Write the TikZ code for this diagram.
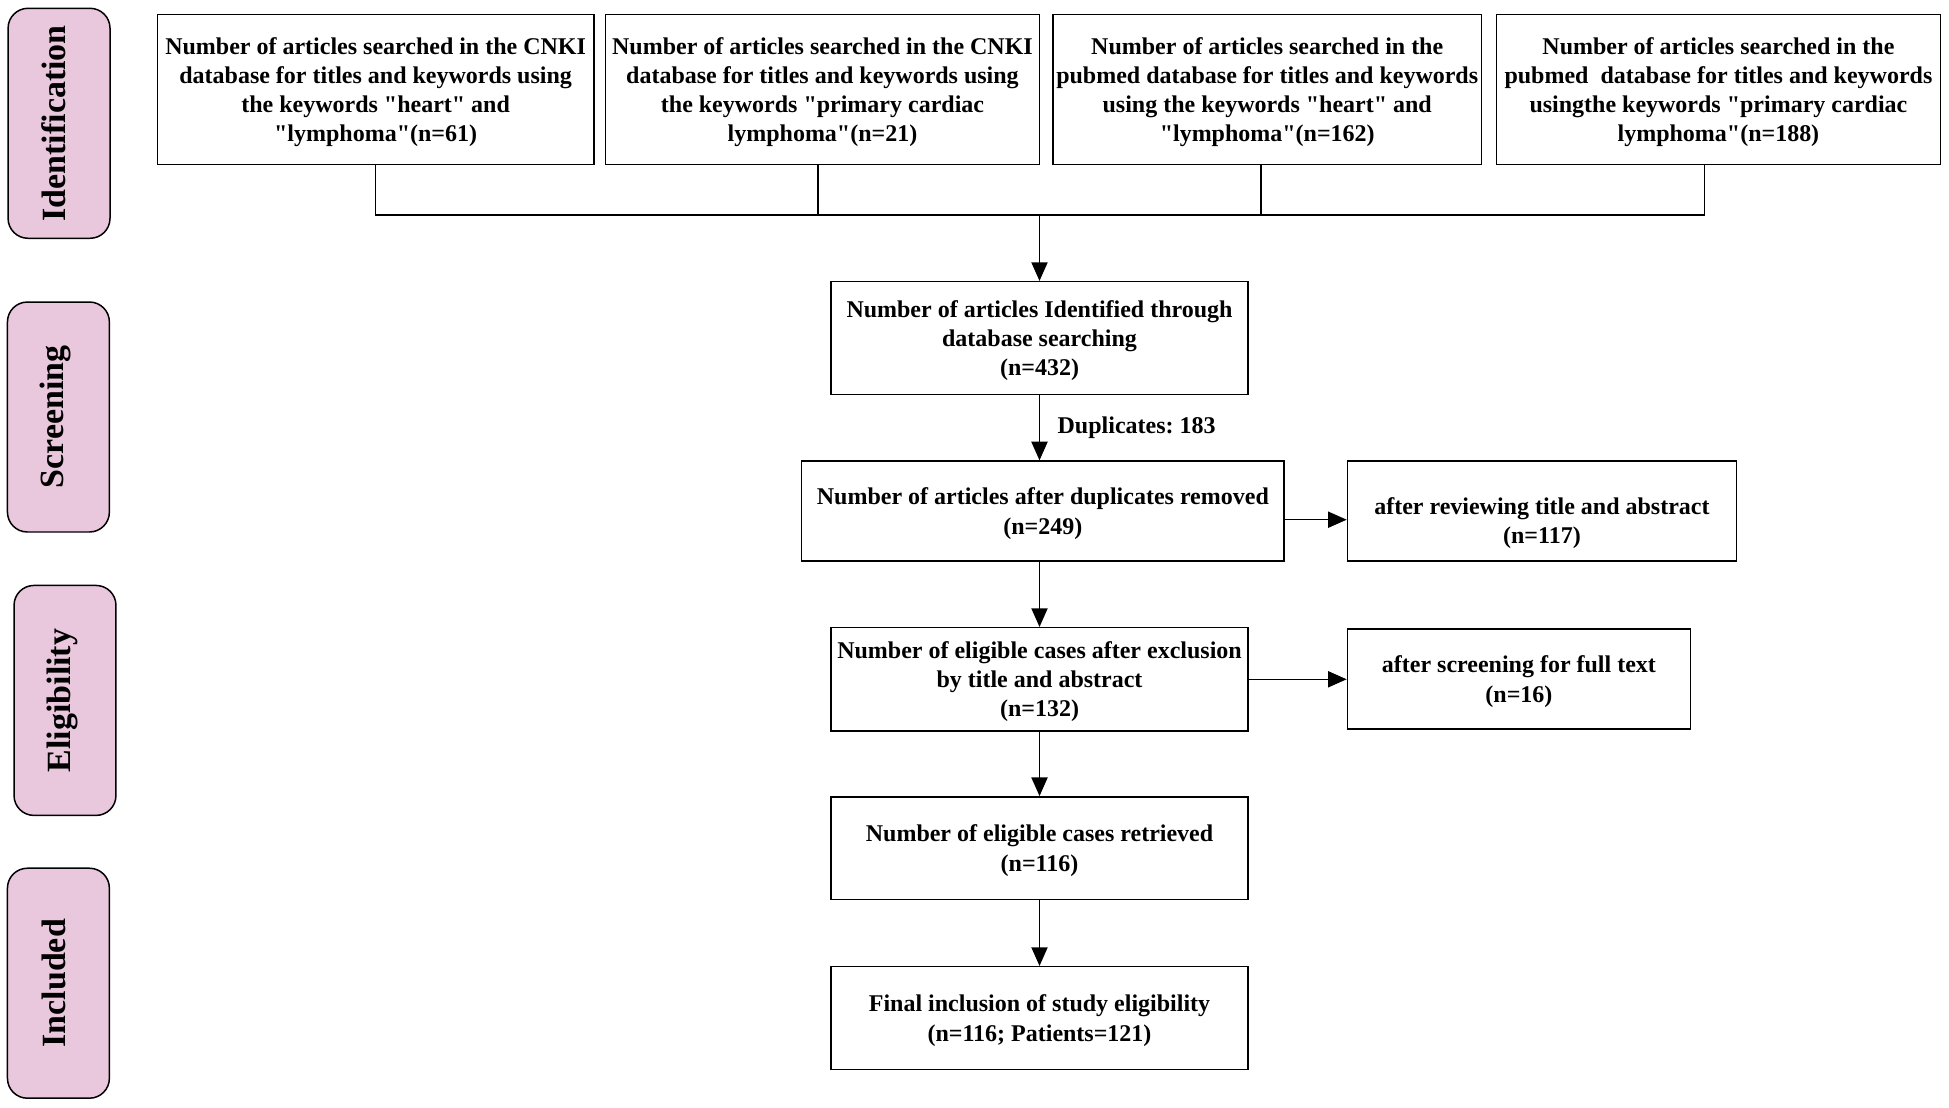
\documentclass[tikz,border=0pt]{standalone}
\usepackage{fontspec}
\setmainfont{Liberation Serif}[Ligatures=TeXOff]
\usetikzlibrary{arrows.meta}
\definecolor{phasepink}{RGB}{233,199,221}
\frenchspacing
\begin{document}
\frenchspacing
\begin{tikzpicture}[x=1pt,y=-1pt,
  box/.style={draw=black, line width=1.2pt, fill=white, inner sep=0pt, align=center,
    text depth=0pt, font=\fontsize{19.3}{23.5}\selectfont\bfseries},
  txt/.style={inner sep=0pt, align=center, font=\fontsize{19.3}{23.5}\selectfont\bfseries},
  phase/.style={draw=black, line width=1.2pt, fill=phasepink, rounded corners=16pt,
    minimum width=82pt, minimum height=185pt, inner sep=0pt},
  phasetxt/.style={rotate=90, font=\fontsize{27.3}{30}\selectfont\bfseries, inner sep=0pt},
  conn/.style={line width=1.2pt},
  arr/.style={line width=1.2pt, -{Triangle[length=15pt,width=13pt]}},
]
\useasboundingbox (0,0) rectangle (1568,890.6);

% phase labels
\node[phase] (pI) at (47.5,99.2) {};
\node[phasetxt] (pIt) at (43,99.2) {Identification};
\node[phase] (pS) at (47,335.5) {};
\node[phasetxt] (pSt) at (45,335.5) {Screening};
\node[phase] (pE) at (52.3,563.5) {};
\node[phasetxt] (pEt) at (50.5,563.5) {Eligibility};
\node[phase] (pN) at (47,791) {};
\node[phasetxt] (pNt) at (43,791) {Included};

% top boxes
\node[box, minimum width=351pt, minimum height=120.7pt] (B1) at (302.2,72)
  {Number of articles searched in the CNKI\\database for titles and keywords using\\the keywords "heart" and\\"lymphoma"(n=61)};
\node[box, minimum width=349.4pt, minimum height=120.7pt] (B2) at (661.7,72)
  {Number of articles searched in the CNKI\\database for titles and keywords using\\the keywords "primary cardiac\\lymphoma"(n=21)};
\node[box, minimum width=345pt, minimum height=120.7pt] (B3) at (1019.5,72)
  {Number of articles searched in the\\pubmed database for titles and keywords\\using the keywords "heart" and\\"lymphoma"(n=162)};
\node[box, minimum width=357pt, minimum height=120.7pt] (B4) at (1382.5,72)
  {Number of articles searched in the\\pubmed\ \ database for titles and keywords\\usingthe keywords "primary cardiac\\lymphoma"(n=188)};

% central column
\node[box, minimum width=335.5pt, minimum height=90.6pt] (C1) at (836.3,271.9)
  {Number of articles Identified through\\database searching\\(n=432)};
\node[box, minimum width=388pt, minimum height=80.3pt] (C2) at (839,411.1)
  {Number of articles after duplicates removed\\(n=249)};
\node[box, minimum width=313pt, minimum height=80.3pt] (R1) at (1240.5,411.1) {};
\node[txt, text depth=0pt] (R1t) at (1240.5,419) {after reviewing title and abstract\\(n=117)};
\node[box, minimum width=335.5pt, minimum height=83pt] (C3) at (836.3,546.5)
  {Number of eligible cases after exclusion\\by title and abstract\\(n=132)};
\node[box, minimum width=276pt, minimum height=80.5pt] (R2) at (1222,546.3)
  {after screening for full text\\(n=16)};
\node[box, minimum width=335.5pt, minimum height=82.5pt] (C4) at (836.3,682.3)
  {Number of eligible cases retrieved\\(n=116)};
\node[box, minimum width=335.5pt, minimum height=82.6pt] (C5) at (836.3,819)
  {Final inclusion of study eligibility\\(n=116; Patients=121)};

% connectors from top boxes
\coordinate (bus) at (0,173);
\coordinate (d1) at (B1.south);
\coordinate (d2) at ([xshift=-3.7pt]B2.south);
\coordinate (d3) at ([xshift=-5.2pt]B3.south);
\coordinate (d4) at ([xshift=-11.1pt]B4.south);
\draw[conn] (d1) -- (d1 |- bus) -- (d4 |- bus) -- (d4);
\draw[conn] (d2) -- (d2 |- bus);
\draw[conn] (d3) -- (d3 |- bus);
\draw[arr] (C1.north |- bus) -- (C1.north);

% main flow
\draw[arr] (C1.south) -- (C1.south |- C2.north)
  node[midway, right=14pt, txt, anchor=west] (dup) {Duplicates: 183};
\draw[arr] (C1.south |- C2.south) -- (C3.north);
\draw[arr] (C3.south) -- (C4.north);
\draw[arr] (C4.south) -- (C5.north);

% side exclusions
\coordinate (a1) at ([yshift=-7pt]C2.east);
\draw[arr] (a1) -- (a1 -| R1.west);
\draw[arr] (C3.east) -- (C3.east -| R2.west);
\end{tikzpicture}
\end{document}
